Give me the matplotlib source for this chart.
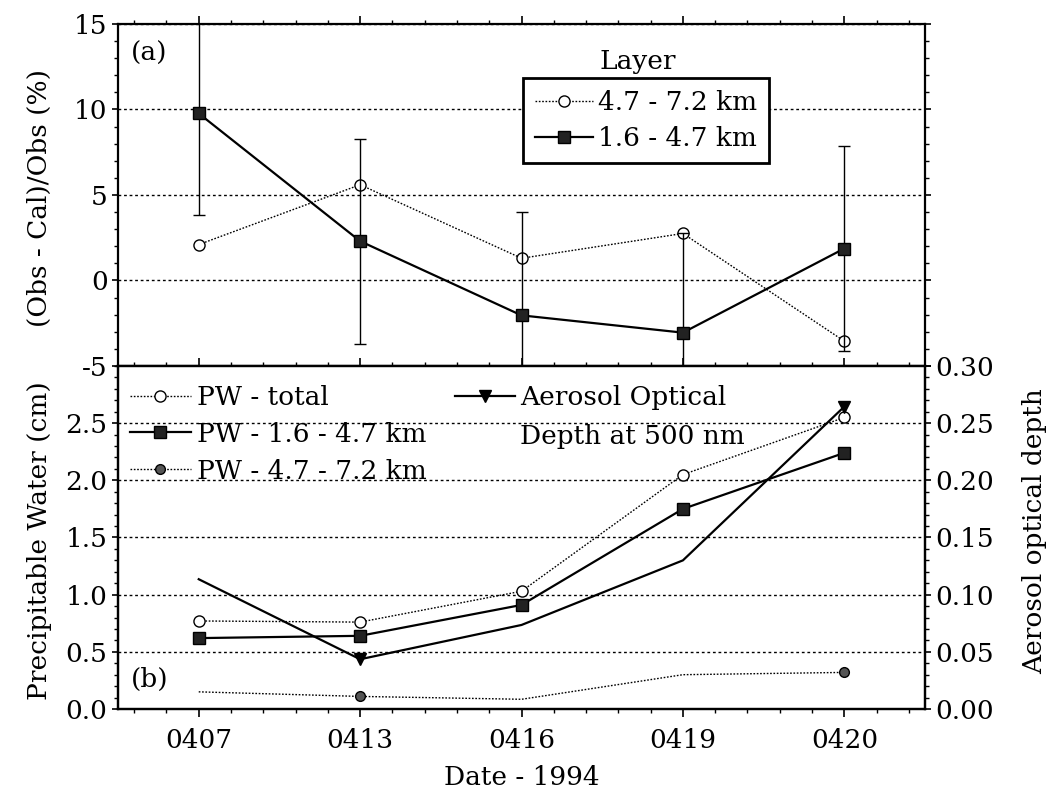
import numpy as np
import matplotlib
matplotlib.use("Agg")
import matplotlib.pyplot as plt
from matplotlib.ticker import MultipleLocator

plt.rcParams['font.family'] = 'DejaVu Serif'
plt.rcParams['font.size'] = 19
plt.rcParams['axes.unicode_minus'] = False

fechas = ['0407', '0413', '0416', '0419', '0420']

# panel (a): (Obs - Cal)/Obs en %
dif_alta = [2.1, 5.6, 1.3, 2.75, -3.55]      # 4.7 - 7.2 km
dif_baja = [9.77, 2.3, -2.04, -3.05, 1.87]   # 1.6 - 4.7 km
err_baja = [5.95, 6.0, 6.05, 5.8, 5.97]

# panel (b): agua precipitable (cm) y espesor optico
pw_total = [0.77, 0.76, 1.03, 2.05, 2.55]
pw_baja = [0.62, 0.64, 0.91, 1.75, 2.24]
pw_alta = [0.15, 0.11, 0.085, 0.30, 0.32]
aod = [0.1135, 0.0435, 0.0735, 0.130, 0.2645]

x = np.arange(len(fechas))

fig = plt.figure(figsize=(10.52, 7.92), dpi=100)
ax1 = fig.add_axes([0.1122, 0.5379, 0.7671, 0.4318])
ax2 = fig.add_axes([0.1122, 0.1048, 0.7671, 0.4331], sharex=ax1)

punteado = (0, (1.2, 1.2))

# ---- panel (a)
l1, = ax1.plot(x, dif_alta, linestyle=punteado, color='black', lw=1,
               marker='o', ms=8, mfc='white', mec='black', mew=1,
               label='4.7 - 7.2 km')
ax1.errorbar(x, dif_baja, yerr=err_baja, fmt='none', ecolor='black',
             elinewidth=1, capsize=4, capthick=1)
l2, = ax1.plot(x, dif_baja, '-', color='black', lw=1.6, marker='s', ms=8,
               mfc='#222222', mec='black', label='1.6 - 4.7 km')
ax1.set_ylim(-5, 15)
ax1.set_xlim(-0.5, 4.5)
ax1.yaxis.set_major_locator(MultipleLocator(5))
ax1.yaxis.set_minor_locator(MultipleLocator(1))
ax1.set_ylabel('(Obs - Cal)/Obs (%)')
ax1.yaxis.set_label_coords(-0.082, 0.49)
ax1.text(0.016, 0.915, '(a)', transform=ax1.transAxes, va='center')
leg1 = ax1.legend(handles=[l1, l2], loc='upper left', bbox_to_anchor=(0.502, 0.842),
                  borderaxespad=0, fancybox=False, edgecolor='black',
                  framealpha=1, handlelength=2.2, handletextpad=0.2,
                  borderpad=0.45, labelspacing=0.42)
leg1.get_frame().set_linewidth(2)
ax1.text(0.644, 0.889, 'Layer', transform=ax1.transAxes, ha='center', va='center')
ax1.tick_params(labelbottom=False)

# ---- panel (b)
ax2r = ax2.twinx()
p1, = ax2.plot(x, pw_total, linestyle=punteado, color='black', lw=1,
               marker='o', ms=8, mfc='white', mec='black', mew=1,
               label='PW - total')
p2, = ax2.plot(x, pw_baja, '-', color='black', lw=1.6, marker='s', ms=8,
               mfc='#222222', mec='black', label='PW - 1.6 - 4.7 km')
p3, = ax2.plot(x, pw_alta, linestyle=punteado, color='black', lw=1,
               marker='o', ms=7, mfc='#555555', mec='black', markevery=[1, 4],
               label='PW - 4.7 - 7.2 km')
p4, = ax2r.plot(x, aod, '-', color='black', lw=1.6, marker='v', ms=8,
                mfc='black', markevery=[1, 4],
                label='Aerosol Optical')
ax2.set_ylim(0, 3.0)
ax2.set_yticks(np.arange(0, 2.51, 0.5))
ax2.yaxis.set_minor_locator(MultipleLocator(0.1))
ax2r.set_ylim(0, 0.30)
ax2r.set_yticks(np.arange(0, 0.301, 0.05))
ax2r.yaxis.set_minor_locator(MultipleLocator(0.01))
ax2.set_ylabel('Precipitable Water (cm)')
ax2.yaxis.set_label_coords(-0.082, 0.49)
ax2r.set_ylabel('Aerosol optical depth')
ax2r.yaxis.set_label_coords(1.12, 0.52)
ax2.set_xlabel('Date - 1994', labelpad=8)
ax2.set_xticks(x)
ax2.set_xticklabels(fechas)
ax2.xaxis.set_minor_locator(MultipleLocator(0.2))
ax2.text(0.016, 0.085, '(b)', transform=ax2.transAxes, va='center')

ax2.legend(handles=[p1, p2, p3], loc='upper left', bbox_to_anchor=(0.015, 0.945),
           frameon=False, borderaxespad=0, borderpad=0, handlelength=2.3,
           handletextpad=0.25, labelspacing=0.45)
ax2r.legend(handles=[p4], loc='upper left', bbox_to_anchor=(0.417, 0.945),
            frameon=False, borderaxespad=0, borderpad=0, handlelength=2.3,
            handletextpad=0.2)
ax2r.text(0.498, 0.795, 'Depth at 500 nm', transform=ax2.transAxes, va='center')

for ax in (ax1, ax2):
    ax.yaxis.grid(True, linestyle=(0, (2, 2)), color='black', lw=1)

for ax in (ax1, ax2, ax2r):
    for s in ax.spines.values():
        s.set_linewidth(1.6)
    ax.tick_params(which='major', direction='out', length=6, width=1.2,
                   top=True, bottom=True)
    ax.tick_params(which='minor', direction='out', length=3, width=1,
                   top=True, bottom=True)
ax1.tick_params(which='both', right=True)
ax2.tick_params(axis='x', which='major', pad=8)
ax2.tick_params(axis='y', which='major', length=4)
ax1.tick_params(axis='y', which='major', length=4)
ax2r.tick_params(axis='y', which='major', length=4)

fig.savefig('out.png', dpi=100)
